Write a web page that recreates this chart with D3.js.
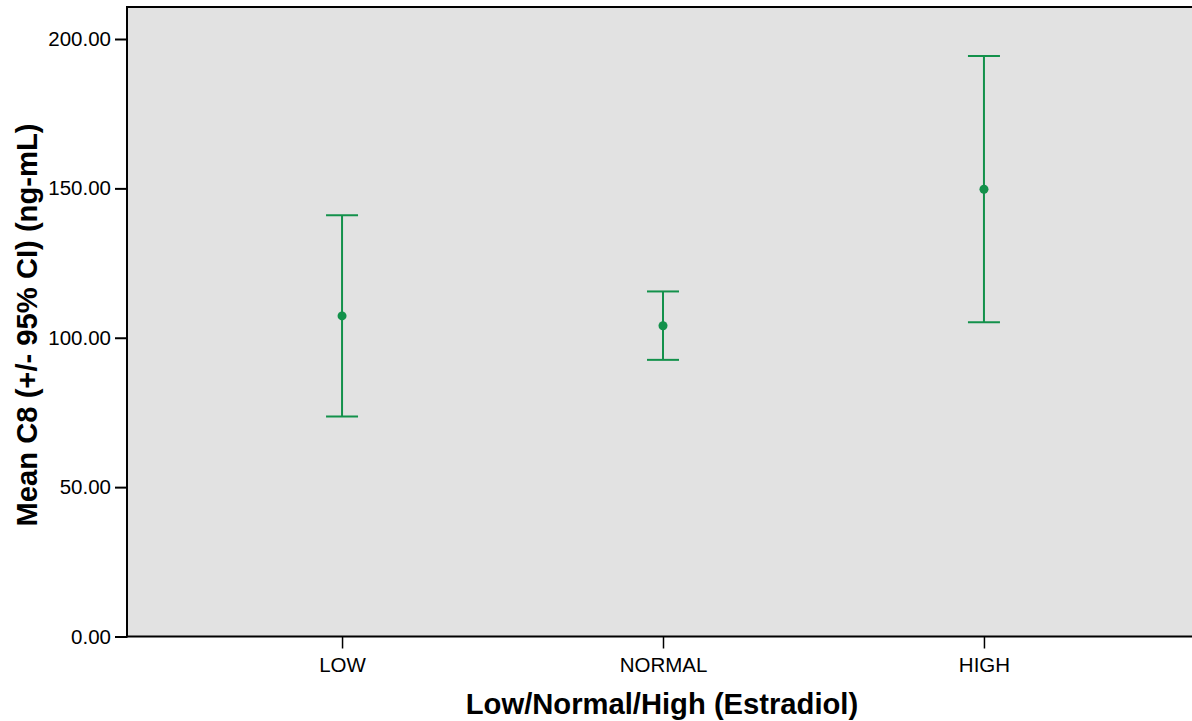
<!DOCTYPE html>
<html>
<head>
<meta charset="utf-8">
<script src="https://cdn.jsdelivr.net/npm/d3@7"></script>
<style>
  body { margin: 0; background: #fff; }
  svg text { font-family: 'Liberation Sans', Arial, sans-serif; }
</style>
</head>
<body>
<div id="chart"></div>
<script>
// groups and values
const groups = ['LOW', 'NORMAL', 'HIGH'];
const means = [107.3, 104.0, 149.7];
const lower = [73.6, 92.6, 105.2];
const upper = [141.0, 115.5, 194.3];
const yTicks = [0, 50, 100, 150, 200];

const width = 1192, height = 721;
const margin = { top: 7, right: 0, bottom: 85, left: 127 };
const green = '#13914b';

const svg = d3.select('#chart').append('svg')
  .attr('width', width)
  .attr('height', height);

const yScale = d3.scaleLinear()
  .domain([0, 200])
  .range([636.5, 39]);

const xScale = d3.scalePoint()
  .domain(groups)
  .range([margin.left, 1199])
  .padding(0.67);

// background panel
svg.append('rect')
  .attr('x', margin.left)
  .attr('y', margin.top)
  .attr('width', width - margin.left + 5)
  .attr('height', yScale(0) - margin.top)
  .attr('fill', '#e2e2e2');

// top frame line
svg.append('line')
  .attr('x1', margin.left).attr('x2', width)
  .attr('y1', margin.top).attr('y2', margin.top)
  .attr('stroke', '#000').attr('stroke-width', 2);

// y axis
const yAxis = svg.append('g')
  .attr('transform', 'translate(' + margin.left + ',0)')
  .call(d3.axisLeft(yScale)
    .tickValues(yTicks)
    .tickFormat(d3.format('.2f'))
    .tickSize(12)
    .tickPadding(4));
yAxis.select('.domain').remove();
yAxis.append('line')
  .attr('x1', 0).attr('x2', 0)
  .attr('y1', margin.top - 1).attr('y2', yScale(0) + 1)
  .attr('stroke', '#000').attr('stroke-width', 2);
yAxis.selectAll('.tick line').attr('stroke-width', 2);
yAxis.selectAll('.tick text')
  .attr('font-size', 20.5)
  .attr('fill', '#000');

// x axis
const xAxis = svg.append('g')
  .attr('transform', 'translate(0,' + yScale(0) + ')')
  .call(d3.axisBottom(xScale).tickSize(12).tickPadding(9));
xAxis.select('.domain').remove();
xAxis.append('line')
  .attr('x1', margin.left - 1).attr('x2', width)
  .attr('y1', 0).attr('y2', 0)
  .attr('stroke', '#000').attr('stroke-width', 2);
xAxis.selectAll('.tick line').attr('stroke-width', 1.5);
xAxis.selectAll('.tick text')
  .attr('font-size', 20.5)
  .attr('fill', '#000');

// error bars
const data = groups.map((g, i) => ({
  group: g, mean: means[i], lo: lower[i], hi: upper[i]
}));
const capHalf = 16;

const bars = svg.append('g').attr('class', 'bars')
  .selectAll('g').data(data).enter().append('g');

bars.append('line')
  .attr('x1', d => xScale(d.group)).attr('x2', d => xScale(d.group))
  .attr('y1', d => yScale(d.hi)).attr('y2', d => yScale(d.lo))
  .attr('stroke', green).attr('stroke-width', 2);

bars.append('line')
  .attr('x1', d => xScale(d.group) - capHalf).attr('x2', d => xScale(d.group) + capHalf)
  .attr('y1', d => yScale(d.hi)).attr('y2', d => yScale(d.hi))
  .attr('stroke', green).attr('stroke-width', 2);

bars.append('line')
  .attr('x1', d => xScale(d.group) - capHalf).attr('x2', d => xScale(d.group) + capHalf)
  .attr('y1', d => yScale(d.lo)).attr('y2', d => yScale(d.lo))
  .attr('stroke', green).attr('stroke-width', 2);

bars.append('circle')
  .attr('cx', d => xScale(d.group))
  .attr('cy', d => yScale(d.mean))
  .attr('r', 4.5)
  .attr('fill', green);

// axis titles
svg.append('text')
  .attr('x', 662)
  .attr('y', 714)
  .attr('text-anchor', 'middle')
  .attr('font-size', 29.2)
  .attr('font-weight', 'bold')
  .text('Low/Normal/High (Estradiol)');

svg.append('text')
  .attr('transform', 'translate(37,325) rotate(-90)')
  .attr('text-anchor', 'middle')
  .attr('font-size', 29.2)
  .attr('font-weight', 'bold')
  .text('Mean C8 (+/- 95% CI) (ng-mL)');
</script>
</body>
</html>
